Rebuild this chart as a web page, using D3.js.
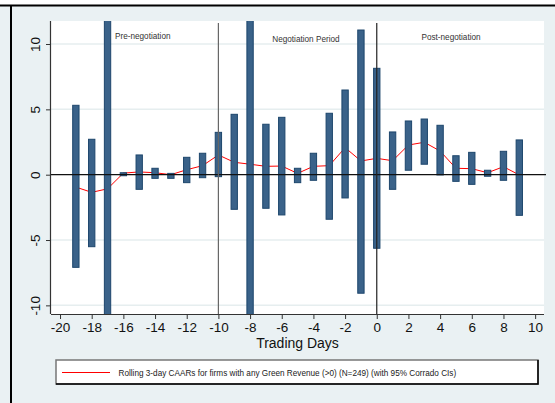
<!DOCTYPE html>
<html>
<head>
<meta charset="utf-8">
<script src="https://cdn.jsdelivr.net/npm/d3@7"></script>
<style>
  html, body { margin: 0; padding: 0; background: #ffffff; }
  svg { display: block; font-family: "Liberation Sans", Arial, Helvetica, sans-serif; }
</style>
</head>
<body>
<svg id="chart" width="555" height="403"></svg>
<script>
// Event-window days
const days = [-19,-18,-17,-16,-15,-14,-13,-12,-11,-10,-9,-8,-7,-6,-5,-4,-3,-2,-1,0,1,2,3,4,5,6,7,8,9];
// Rolling 3-day CAAR (%)
const caar = [-0.95,-1.35,-1.08,0.12,0.21,0.15,0.0,0.38,0.69,1.51,0.95,0.8,0.64,0.66,0.1,0.64,0.69,2.07,1.05,1.25,1.07,2.27,2.48,1.81,0.49,0.46,0.15,0.61,-0.02];
// 95% Corrado confidence bounds (%)
const ciUpper = [5.31,2.71,14.0,0.15,1.51,0.49,0.1,1.33,1.64,3.24,4.62,13.5,3.86,4.39,0.49,1.64,4.7,6.48,11.07,8.14,3.27,4.11,4.26,3.78,1.45,1.71,0.34,1.79,2.66];
const ciLower = [-7.09,-5.51,-12.5,-0.08,-1.12,-0.28,-0.28,-0.61,-0.23,-0.15,-2.65,-11.5,-2.57,-3.08,-0.61,-0.43,-3.41,-1.78,-9.07,-5.63,-1.12,0.34,0.8,-0.02,-0.51,-0.74,-0.12,-0.43,-3.11];
// Axis ticks
const xTicks = [-20,-18,-16,-14,-12,-10,-8,-6,-4,-2,0,2,4,6,8,10];
const yTicks = [-10,-5,0,5,10];
// Period boundaries and labels
const periodBreaks = [-10, 0];
const periodLabels = ["Pre-negotiation", "Negotiation Period", "Post-negotiation"];
const xTitle = "Trading Days";
const legendText = "Rolling 3-day CAARs for firms with any Green Revenue (>0) (N=249) (with 95% Corrado CIs)";

const svg = d3.select("#chart");
const W = 555, H = 403;

// graph region background and frame
svg.append("rect").attr("x", 0).attr("y", 0).attr("width", W).attr("height", H).attr("fill", "#ffffff");
svg.append("rect").attr("x", 0).attr("y", 6).attr("width", W).attr("height", H - 6).attr("fill", "#eaf1f3");
svg.append("line").attr("x1", 0).attr("x2", W).attr("y1", 5.5).attr("y2", 5.5).attr("stroke", "#000").attr("stroke-width", 2);
svg.append("line").attr("x1", 11).attr("x2", 11).attr("y1", 5).attr("y2", H).attr("stroke", "#000").attr("stroke-width", 2);

// plot region
const plot = { left: 51, right: 544, top: 21, bottom: 314 };
const x = d3.scaleLinear().domain([-20.57, 10.56]).range([plot.left, plot.right]);
const y = d3.scaleLinear().domain([-10.66, 11.76]).range([plot.bottom, plot.top]);

svg.append("rect")
  .attr("x", plot.left).attr("y", plot.top)
  .attr("width", plot.right - plot.left).attr("height", plot.bottom - plot.top)
  .attr("fill", "#ffffff");

svg.append("defs").append("clipPath").attr("id", "plotclip")
  .append("rect")
  .attr("x", plot.left).attr("y", plot.top)
  .attr("width", plot.right - plot.left).attr("height", plot.bottom - plot.top);

// horizontal grid lines
svg.append("g").selectAll("line").data(yTicks.filter(d => d !== 0)).join("line")
  .attr("x1", plot.left).attr("x2", plot.right)
  .attr("y1", d => y(d)).attr("y2", d => y(d))
  .attr("stroke", "#e6eeef").attr("stroke-width", 1.5);

const clipped = svg.append("g").attr("clip-path", "url(#plotclip)");

// CAAR line (drawn beneath the CI bars)
const line = d3.line().x((d, i) => x(days[i])).y(d => y(d));
clipped.append("path")
  .datum(caar)
  .attr("d", line)
  .attr("fill", "none")
  .attr("stroke", "#ff0000")
  .attr("stroke-width", 1);

// confidence interval bars
const barW = x(0.4) - x(0);
clipped.append("g").selectAll("rect").data(days).join("rect")
  .attr("x", d => x(d) - barW / 2)
  .attr("width", barW)
  .attr("y", (d, i) => y(ciUpper[i]))
  .attr("height", (d, i) => y(ciLower[i]) - y(ciUpper[i]))
  .attr("fill", "#3a6289")
  .attr("stroke", "#1d466c")
  .attr("stroke-width", 1);

// zero line
svg.append("line")
  .attr("x1", plot.left).attr("x2", plot.right + 2)
  .attr("y1", y(0)).attr("y2", y(0))
  .attr("stroke", "#111").attr("stroke-width", 1.2);

// period boundary lines
svg.append("g").selectAll("line").data(periodBreaks).join("line")
  .attr("x1", d => x(d)).attr("x2", d => x(d))
  .attr("y1", plot.top + 2).attr("y2", plot.bottom)
  .attr("stroke", d => d === 0 ? "#222" : "#666")
  .attr("stroke-width", 1.2);

// period labels
const labelX = [-16.53, -6.6, 2.82];
const labelY = [10.42, 10.19, 10.34];
svg.append("g").selectAll("text").data(periodLabels).join("text")
  .attr("x", (d, i) => x(labelX[i]))
  .attr("y", (d, i) => y(labelY[i]))
  .attr("font-size", 8.2)
  .attr("fill", "#333")
  .text(d => d);

// x axis
const xAxis = d3.axisBottom(x).tickValues(xTicks).tickSize(5).tickPadding(3).tickFormat(d3.format("d"));
const gx = svg.append("g").attr("transform", `translate(0,${plot.bottom})`).call(xAxis);
gx.select(".domain").attr("d", `M${plot.left},0.5H${plot.right}`).attr("stroke", "#333").attr("stroke-width", 1.2);
gx.selectAll(".tick line").attr("stroke", "#333");
gx.selectAll(".tick text")
  .attr("font-family", "Liberation Sans, Arial, sans-serif")
  .attr("font-size", 13.5).attr("fill", "#111")
  .text(d => d < 0 ? "-" + Math.abs(d) : d);

// y axis
const yAxis = d3.axisLeft(y).tickValues(yTicks).tickSize(5).tickFormat(d3.format("d"));
const gy = svg.append("g").attr("transform", `translate(${plot.left},0)`).call(yAxis);
gy.select(".domain").attr("d", `M-0.5,${plot.top}V${plot.bottom}`).attr("stroke", "#333").attr("stroke-width", 1.2);
gy.selectAll(".tick line").attr("stroke", "#333");
gy.selectAll(".tick text")
  .attr("font-family", "Liberation Sans, Arial, sans-serif")
  .attr("font-size", 13.5).attr("fill", "#111")
  .attr("x", null).attr("dy", null)
  .attr("text-anchor", "middle")
  .attr("transform", "translate(-11,0) rotate(-90)")
  .text(d => d < 0 ? "-" + Math.abs(d) : d);

// x axis title
svg.append("text")
  .attr("x", (plot.left + plot.right) / 2)
  .attr("y", 348)
  .attr("text-anchor", "middle")
  .attr("font-size", 14)
  .attr("fill", "#111")
  .text(xTitle);

// legend
const lg = svg.append("g");
lg.append("rect").attr("x", 56).attr("y", 360).attr("width", 482).attr("height", 24)
  .attr("fill", "#ffffff").attr("stroke", "#777").attr("stroke-width", 1.5);
lg.append("path").attr("d", "M538,360V384H56").attr("fill", "none").attr("stroke", "#000").attr("stroke-width", 1.5);
lg.append("line").attr("x1", 62).attr("x2", 110).attr("y1", 372.5).attr("y2", 372.5)
  .attr("stroke", "#ff0000").attr("stroke-width", 1);
lg.append("text").attr("x", 118.5).attr("y", 375.5)
  .attr("font-size", 8.2).attr("fill", "#222")
  .text(legendText);
</script>
</body>
</html>
